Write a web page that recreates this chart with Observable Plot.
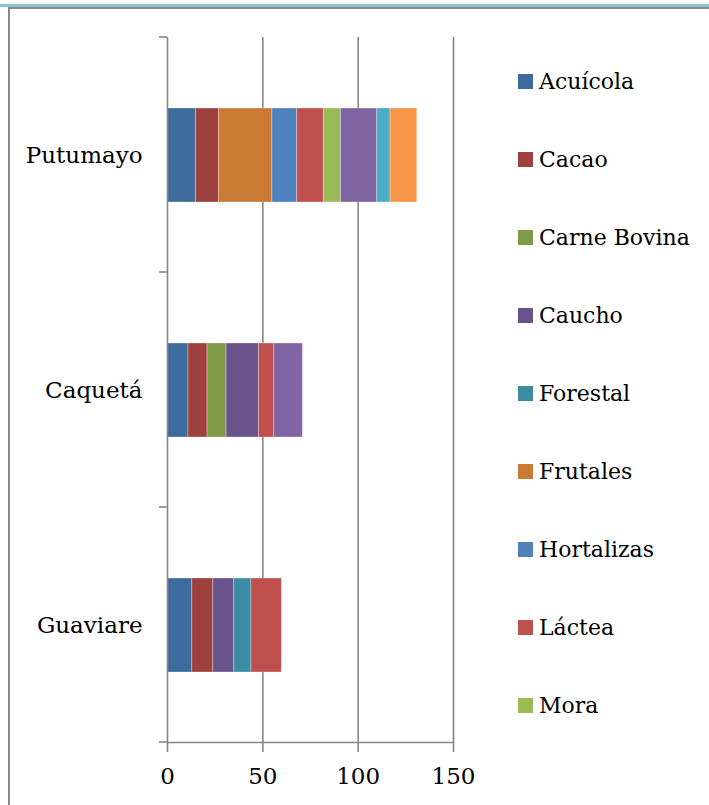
<!DOCTYPE html>
<html>
<head>
<meta charset="utf-8">
<script src="https://cdn.jsdelivr.net/npm/d3@7"></script>
<script src="https://cdn.jsdelivr.net/npm/@observablehq/plot@0.6"></script>
<style>
  html, body { margin: 0; padding: 0; background: #fff; }
  #wrap { position: relative; width: 709px; height: 805px; overflow: hidden; font-family: "DejaVu Serif", serif; }
  #chart { position: absolute; left: 0; top: 0; }
  #band { position: absolute; left: 0; top: 4px; width: 709px; height: 3px; background: #8cc6d6; }
  #topline { position: absolute; left: 8px; top: 7px; width: 701px; height: 1.5px; background: #8a8a8a; }
  #leftline { position: absolute; left: 8px; top: 7px; width: 1.5px; height: 798px; background: #8a8a8a; }
  #legend { position: absolute; left: 518px; top: 42px; }
  .item { display: flex; align-items: center; height: 78px; font-size: 22px; color: #000; }
  .sw { width: 15px; height: 15px; margin-right: 6px; flex: none; }
</style>
</head>
<body>
<div id="wrap">
  <div id="band"></div>
  <div id="topline"></div>
  <div id="leftline"></div>
  <div id="chart"></div>
  <div id="legend"></div>
</div>
<script>
// Categories (top to bottom)
const regions = ["Putumayo", "Caquetá", "Guaviare"];

// Series names (the last three are cut off from the reference legend)
const seriesNames = ["Acuícola", "Cacao", "Carne Bovina", "Caucho", "Forestal", "Frutales",
  "Hortalizas", "Láctea", "Mora", "Serie 10", "Serie 11", "Serie 12"];

// Values per series, in the order of regions [Putumayo, Caquetá, Guaviare]
const acuicola    = [15, 11, 13];
const cacao       = [12, 10, 11];
const carneBovina = [0, 10, 0];
const caucho      = [0, 17, 11];
const forestal    = [0, 0, 9];
const frutales    = [28, 0, 0];
const hortalizas  = [13, 0, 0];
const lactea      = [14, 8, 16];
const mora        = [9, 0, 0];
const serie10     = [19, 15, 0];
const serie11     = [7, 0, 0];
const serie12     = [14, 0, 0];

const seriesValues = [acuicola, cacao, carneBovina, caucho, forestal, frutales,
  hortalizas, lactea, mora, serie10, serie11, serie12];

const seriesColors = ["#3e6b9e", "#9e413e", "#7f9b48", "#69538a", "#3c8da3", "#cb7a36",
  "#4f81bd", "#c0504d", "#9bbb59", "#8064a2", "#4bacc6", "#f79646"];

// Legend shows only the first nine entries (as in the reference)
const legendCount = 9;

const xTicks = [0, 50, 100, 150];

const rows = seriesNames.flatMap((s, i) =>
  regions.map((r, j) => ({ region: r, series: s, value: seriesValues[i][j] }))
).filter(d => d.value > 0);

const gray = "#868686";

const plot = Plot.plot({
  width: 500,
  height: 805,
  marginLeft: 167,
  marginRight: 47,
  marginTop: 37,
  marginBottom: 63,
  style: { fontFamily: "DejaVu Serif", fontSize: "23px", color: "#000", background: "transparent" },
  x: { domain: [0, 150], label: null },
  y: { domain: regions, paddingInner: 0.6, paddingOuter: 0.3, label: null },
  color: { domain: seriesNames, range: seriesColors },
  marks: [
    Plot.gridX({ ticks: xTicks.filter(t => t > 0), stroke: gray, strokeOpacity: 1, strokeWidth: 1.6 }),
    Plot.barX(rows, Plot.stackX({ x: "value", y: "region", fill: "series", stroke: "white", strokeOpacity: 0.3, strokeWidth: 1 })),
    Plot.ruleX([0], { stroke: gray, strokeWidth: 1.6 }),
    Plot.frame({ anchor: "bottom", stroke: gray, strokeWidth: 1.6 }),
    Plot.axisX({ ticks: xTicks, tickSize: 10, tickPadding: 15, stroke: gray, strokeWidth: 1.6, label: null, fontSize: 23 }),
    Plot.axisY({ tickSize: 0, tickPadding: 25, label: null, fontSize: 23 })
  ]
});

document.getElementById("chart").appendChild(plot);

// Band-boundary ticks on the y axis, from the plot's own scales
const ys = plot.scale("y");
const xs = plot.scale("x");
const band = d3.scaleBand(ys.domain, ys.range).paddingInner(ys.paddingInner).paddingOuter(ys.paddingOuter).align(ys.align ?? 0.5);
const x0 = xs.apply ? xs.apply(0) : d3.scaleLinear(xs.domain, xs.range)(0);
const step = band.step(), bw = band.bandwidth();
const bounds = ys.domain.map(d => band(d) + bw / 2 - step / 2);
bounds.push(band(ys.domain[ys.domain.length - 1]) + bw / 2 + step / 2);
d3.select(plot).append("g")
  .selectAll("line").data(bounds).join("line")
  .attr("x1", x0 - 8).attr("x2", x0)
  .attr("y1", d => d).attr("y2", d => d)
  .attr("stroke", gray).attr("stroke-width", 1.6);

// Legend
const legend = d3.select("#legend");
seriesNames.slice(0, legendCount).forEach((s, i) => {
  const it = legend.append("div").attr("class", "item");
  it.append("div").attr("class", "sw").style("background", seriesColors[i]);
  it.append("span").text(s);
});
</script>
</body>
</html>
